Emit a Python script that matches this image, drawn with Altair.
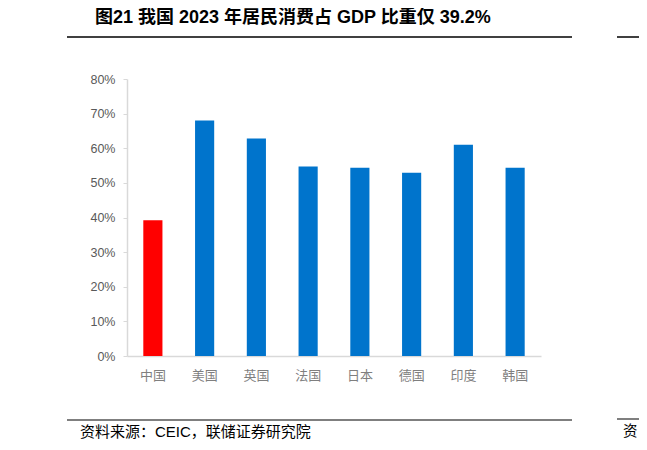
import altair as alt
import pandas as pd

# ---- data ----
countries = ["中国", "美国", "英国", "法国", "日本", "德国", "印度", "韩国"]
shares = [39.2, 68.0, 62.8, 54.7, 54.4, 52.9, 61.0, 54.4]
y_ticks = [0, 10, 20, 30, 40, 50, 60, 70, 80]
title_text = ["图21 我国 2023 年居民消费占 GDP 比重仅 39.2%"]
source_text = ["资料来源：CEIC，联储证券研究院"]
right_source = ["资"]

df = pd.DataFrame({"country": countries, "share": shares})

W, H = 414, 277
OX, OY = 127, 79  # plot origin on the page

bars = alt.Chart(df).mark_bar().encode(
    x=alt.X("country:N", sort=countries,
            scale=alt.Scale(paddingInner=0.63, paddingOuter=0.315),
            axis=alt.Axis(title=None, labelAngle=0, ticks=False,
                          domainColor="#d9d9d9", domainWidth=1.5,
                          labelFont="Noto Sans CJK SC", labelFontSize=13,
                          labelColor="#7f7f7f", labelPadding=13)),
    y=alt.Y("share:Q", scale=alt.Scale(domain=[0, 80], nice=False),
            axis=alt.Axis(title=None, values=y_ticks, grid=False,
                          labelExpr="datum.value + '%'",
                          domainColor="#d9d9d9", domainWidth=1.5,
                          tickColor="#d9d9d9", tickSize=4,
                          labelFont="Liberation Sans", labelFontSize=12.5,
                          labelColor="#595959", labelPadding=8)),
    color=alt.condition(alt.datum.country == "中国",
                        alt.value("#FF0000"), alt.value("#0074CC")),
)

def px(x):
    return x - OX

def py(y):
    return y - OY

title = alt.Chart(pd.DataFrame({"t": title_text})).mark_text(
    align="left", baseline="middle",
    font="Liberation Sans, Noto Sans CJK SC",
    fontWeight="bold", fontSize=18, color="#000000"
).encode(x=alt.value(px(95)), y=alt.value(py(18)), text="t:N")

source = alt.Chart(pd.DataFrame({"t": source_text})).mark_text(
    align="left", baseline="middle",
    font="Liberation Sans, Noto Sans CJK SC",
    fontSize=15, color="#000000"
).encode(x=alt.value(px(80)), y=alt.value(py(432)), text="t:N")

source_r = alt.Chart(pd.DataFrame({"t": right_source})).mark_text(
    align="left", baseline="middle", font="Noto Sans CJK SC",
    fontSize=14.5, color="#000000"
).encode(x=alt.value(px(623)), y=alt.value(py(432)), text="t:N")

top_line = alt.Chart(pd.DataFrame({"k": [0]})).mark_rule(
    color="#000000", strokeWidth=1.5
).encode(x=alt.value(px(67)), x2=alt.value(px(572)), y=alt.value(py(37)))

top_line_r = alt.Chart(pd.DataFrame({"k": [0]})).mark_rule(
    color="#000000", strokeWidth=1.5
).encode(x=alt.value(px(617)), x2=alt.value(px(660)), y=alt.value(py(37)))

bot_line = alt.Chart(pd.DataFrame({"k": [0]})).mark_rule(
    color="#7f7f7f", strokeWidth=2
).encode(x=alt.value(px(67)), x2=alt.value(px(572)), y=alt.value(py(420)))

bot_line_r = alt.Chart(pd.DataFrame({"k": [0]})).mark_rule(
    color="#7f7f7f", strokeWidth=2
).encode(x=alt.value(px(617)), x2=alt.value(px(660)), y=alt.value(py(419)))

chart = alt.layer(
    bars, title, source, source_r, top_line, top_line_r, bot_line, bot_line_r
).properties(
    width=W, height=H,
    autosize=alt.AutoSizeParams(type="none"),
    padding={"left": OX - 8, "top": OY - 8,
             "right": 631 - (OX - 8) - W, "bottom": 434 - (OY - 8) - H},
    background="#ffffff",
).configure_view(stroke=None)

chart.save("out.html", embed_options={"renderer": "svg", "actions": False})
